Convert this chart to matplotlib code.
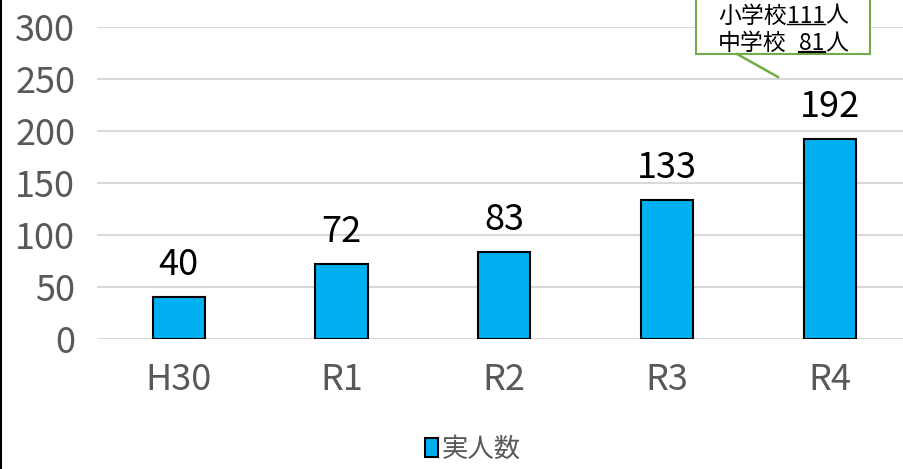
import matplotlib
matplotlib.use('Agg')
import matplotlib.pyplot as plt
from matplotlib.patches import Rectangle
from matplotlib.lines import Line2D
import numpy as np

plt.rcParams['font.family'] = ['Noto Sans CJK JP', 'DejaVu Sans']

# データ
categories = ['H30', 'R1', 'R2', 'R3', 'R4']
counts = [40, 72, 83, 133, 192]
series_name = '実人数'
note_labels = ['小学校', '中学校']
note_counts = ['111', '81']
note_unit = '人'

W, H = 904, 469
fig = plt.figure(figsize=(W / 100, H / 100), dpi=100)
ax = fig.add_axes([97.3 / W, 130.3 / H, 814 / W, 312 / H])


def fx(px):
    return px / W


def fy(py):
    return 1 - py / H


x = np.arange(len(categories))
bars = ax.bar(x, counts, width=0.32, color='#00b0f0', edgecolor='black',
              linewidth=1.5, label=series_name, zorder=3)
ax.set_xlim(-0.5, len(categories) - 0.5)
ax.set_ylim(0, 300)
ax.set_yticks(np.arange(0, 301, 50))
ax.set_xticks(x, categories)
ax.grid(axis='y', color='#d9d9d9', linewidth=1.5, zorder=0)
ax.set_axisbelow(True)
for s in ax.spines.values():
    s.set_visible(False)
ax.tick_params(length=0, labelsize=26, colors='#595959')
ax.tick_params(axis='y', pad=16)
ax.tick_params(axis='x', pad=17)

# 棒の上の数値
for b, v in zip(bars, counts):
    ax.annotate(str(v), (b.get_x() + b.get_width() / 2, v), xytext=(0, 16),
                textcoords='offset points', ha='center', va='baseline',
                fontsize=26, color='black')

fig.legend(loc='center', bbox_to_anchor=(fx(473), fy(449)), frameon=False,
           fontsize=19, handlelength=0.5, handleheight=0.7, handletextpad=0.15,
           labelcolor='#595959')

# 左端の枠線
fig.add_artist(Line2D([fx(1.5), fx(1.5)], [0, 1], color='black', lw=1.5))

# 吹き出し
fig.add_artist(Rectangle((fx(696), fy(54)), fx(870) - fx(696), 0.2,
                         transform=fig.transFigure, facecolor='white',
                         edgecolor='#70ad47', linewidth=1.5, zorder=5))
fig.add_artist(Line2D([fx(737), fx(778)], [fy(54), fy(77)], color='#70ad47',
                      lw=1.8, zorder=5))

fig.canvas.draw()
renderer = fig.canvas.get_renderer()
fs = 16.5
baselines = [22.7, 50]
num_right = None
for i, (lab, num) in enumerate(zip(note_labels, note_counts)):
    t = fig.text(fx(718), fy(baselines[i]), lab, fontsize=fs, va='baseline',
                 zorder=6)
    bb = t.get_window_extent(renderer)
    if num_right is None:
        tn = fig.text(bb.x1 / W, fy(baselines[i]), num, fontsize=fs,
                      va='baseline', zorder=6)
    else:
        tn = fig.text(num_right / W, fy(baselines[i]), num, fontsize=fs,
                      va='baseline', ha='right', zorder=6)
    bn = tn.get_window_extent(renderer)
    num_right = bn.x1
    fig.text(bn.x1 / W, fy(baselines[i]), note_unit, fontsize=fs,
             va='baseline', zorder=6)
    uy = fy(baselines[i] + 1.8)
    fig.add_artist(Line2D([bn.x0 / W, bn.x1 / W], [uy, uy], color='black',
                          lw=1.0 if i == 0 else 1.6, zorder=6))

fig.savefig('out.png', dpi=100)
